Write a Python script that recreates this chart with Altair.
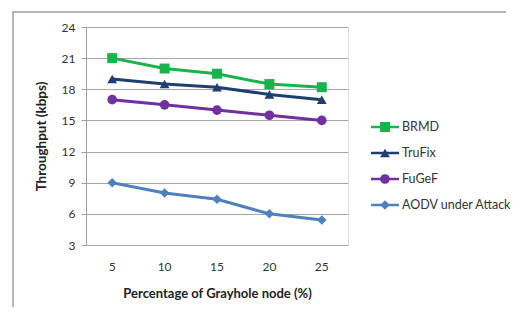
import altair as alt
import pandas as pd

x_values = [5, 10, 15, 20, 25]
series_names = ["BRMD", "TruFix", "FuGeF", "AODV under Attack"]
brmd = [21.0, 20.0, 19.5, 18.5, 18.2]
trufix = [19.0, 18.5, 18.2, 17.5, 17.0]
fugef = [17.0, 16.5, 16.0, 15.5, 15.0]
aodv = [9.0, 8.0, 7.4, 6.0, 5.4]
colors = ["#1CB24B", "#1F3F6F", "#7030A0", "#4F81BD"]
shapes = ["square", "triangle-up", "circle", "diamond"]
sizes = [100, 90, 95, 70]
y_ticks = [3, 6, 9, 12, 15, 18, 21, 24]

rows = []
for name, vals in zip(series_names, [brmd, trufix, fugef, aodv]):
    for xv, yv in zip(x_values, vals):
        rows.append({"x": str(xv), "y": yv, "series": name})
df = pd.DataFrame(rows)
legend_df = pd.DataFrame({"series": series_names})

FONT = "Lato"
color_scale = alt.Scale(domain=series_names, range=colors)
shape_scale = alt.Scale(domain=series_names, range=shapes)
size_scale = alt.Scale(domain=series_names, range=sizes)

x_enc = alt.X("x:N", sort=[str(v) for v in x_values],
              scale=alt.Scale(type="band", paddingInner=0, paddingOuter=0),
              axis=alt.Axis(title="Percentage of Grayhole node (%)", labelAngle=0,
                            ticks=False, domain=False, labelPadding=16,
                            titlePadding=15, labelFontSize=12, titleFontSize=13,
                            labelColor="#333333", titleColor="#222222",
                            titleFontWeight="bold", labelFont=FONT, titleFont=FONT))
y_enc = alt.Y("y:Q", scale=alt.Scale(domain=[3, 24], nice=False, zero=False),
              axis=alt.Axis(title="Throughput (kbps)", values=y_ticks, tickSize=5,
                            tickColor="#A0A0A0", domainColor="#A0A0A0",
                            gridColor="#A6A6A6", labelPadding=6, titlePadding=13,
                            labelFontSize=12, titleFontSize=13.5, labelColor="#333333",
                            titleColor="#222222", titleFontWeight="bold",
                            labelFont=FONT, titleFont=FONT))

base = alt.Chart(df)
lines = base.mark_line(strokeWidth=3).encode(
    x=x_enc, y=y_enc,
    color=alt.Color("series:N", scale=color_scale, legend=None),
    detail="series:N",
)
points = base.mark_point(filled=True, opacity=1).encode(
    x=x_enc, y=y_enc,
    color=alt.Color("series:N", scale=color_scale, legend=None),
    shape=alt.Shape("series:N", scale=shape_scale, legend=None),
    size=alt.Size("series:N", scale=size_scale, legend=None),
)
main = alt.layer(lines, points)

ly = alt.Y("series:N", sort=series_names,
           scale=alt.Scale(type="point", range=[100, 178], padding=0), axis=None)
leg_base = alt.Chart(legend_df)
leg_lines = leg_base.mark_rule(strokeWidth=2.5).encode(
    x=alt.value(285), x2=alt.value(313), y=ly,
    color=alt.Color("series:N", scale=color_scale, legend=None),
)
leg_points = leg_base.mark_point(filled=True, opacity=1).encode(
    x=alt.value(299), y=ly,
    color=alt.Color("series:N", scale=color_scale, legend=None),
    shape=alt.Shape("series:N", scale=shape_scale, legend=None),
    size=alt.Size("series:N", scale=size_scale, legend=None),
)
leg_text = leg_base.mark_text(align="left", baseline="middle", fontSize=12.5,
                              font=FONT, color="#333333").encode(
    x=alt.value(316), y=ly, text="series:N",
)
legend = alt.layer(leg_lines, leg_points, leg_text)

frame_df = pd.DataFrame({"k": [0]})
frame_left = alt.Chart(frame_df).mark_rule(color="#A0A0A0", strokeWidth=1.5).encode(
    x=alt.value(-73), y=alt.value(-16), y2=alt.value(280))
seg1 = alt.Chart(frame_df).mark_rule(color="#A0A0A0", strokeWidth=1.5).encode(
    y=alt.value(-15), x=alt.value(-73), x2=alt.value(100))
seg2 = alt.Chart(frame_df).mark_rule(color="#A0A0A0", strokeWidth=1.5).encode(
    y=alt.value(-15), x=alt.value(100), x2=alt.value(260))
seg3 = alt.Chart(frame_df).mark_rule(color="#A0A0A0", strokeWidth=1.5).encode(
    y=alt.value(-15), x=alt.value(260), x2=alt.value(420))
frame = alt.layer(frame_left, seg1, seg2, seg3)

chart = alt.layer(frame, main, legend).resolve_scale(y="independent").properties(
    width=262, height=218,
    autosize=alt.AutoSizeParams(type="none"),
    padding={"left": 78, "top": 19, "right": 171, "bottom": 62},
).configure_view(stroke=None).configure(background="white")

chart.save("out.html", embed_options={"renderer": "svg", "actions": False})
